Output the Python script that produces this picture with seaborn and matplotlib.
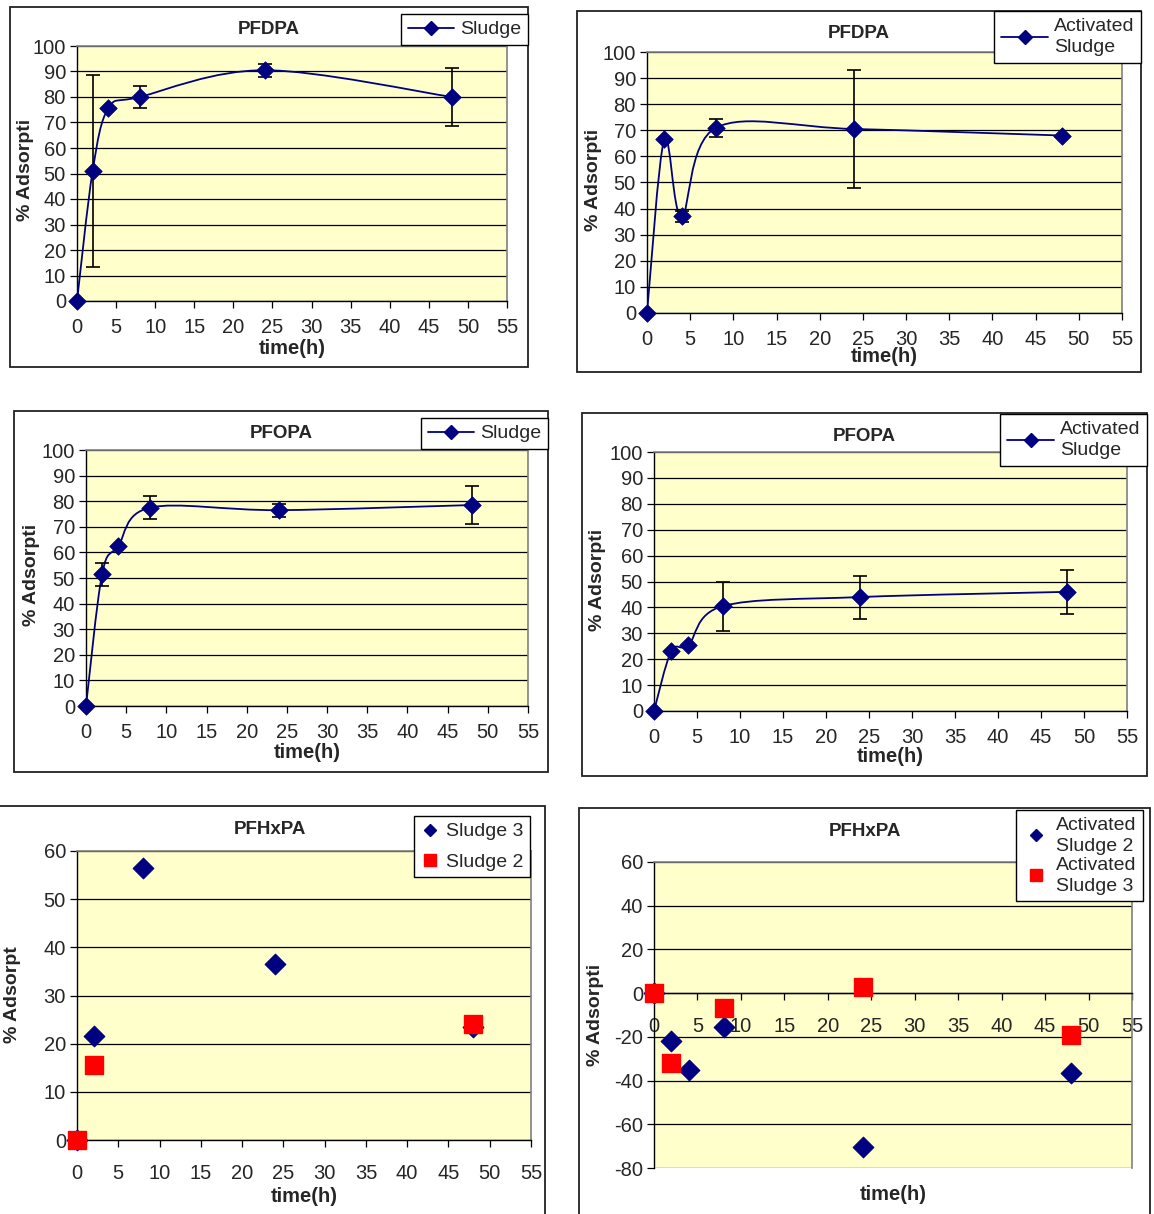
import numpy as np
import pandas as pd
import matplotlib
matplotlib.use('Agg')
import matplotlib.pyplot as plt
import seaborn as sns
from matplotlib.path import Path
from matplotlib.patches import PathPatch, Rectangle
from matplotlib.lines import Line2D

# sampling times (h) and % adsorption
time_h = [0, 2, 4, 8, 24, 48]
pfdpa_sludge = [0, 51, 75.5, 80, 90.5, 80]
pfdpa_sludge_err = [0, 37.5, 0, 4.3, 2.5, 11.5]
pfdpa_act = [0, 66.5, 37, 71, 70.5, 68]
pfdpa_act_err = [0, 0, 2, 3.5, 22.5, 0]
pfopa_sludge = [0, 51.5, 62.5, 77.5, 76.5, 78.5]
pfopa_sludge_err = [0, 4.5, 0, 4.5, 2.5, 7.5]
pfopa_act = [0, 23, 25.5, 40.5, 44, 46]
pfopa_act_err = [0, 0, 0, 9.5, 8.3, 8.5]

pfhxpa_time_s3 = [0, 2, 8, 24, 48]
pfhxpa_sludge3 = [0, 21.5, 56.5, 36.5, 23.5]
pfhxpa_time_s2 = [0, 2, 48]
pfhxpa_sludge2 = [0, 15.5, 24]
pfhxpa_time_as2 = [0, 2, 4, 8, 24, 48]
pfhxpa_act2 = [0, -22, -35, -15.5, -70.5, -36.5]
pfhxpa_time_as3 = [0, 2, 8, 24, 48]
pfhxpa_act3 = [0, -32, -7, 3, -19]

x_ticks = list(range(0, 56, 5))

NAVY = '#000080'
RED = '#FF0000'
W, H = 1154, 1214

sns.set_style('white')
plt.rcParams['font.family'] = ['Liberation Sans', 'DejaVu Sans']
plt.rcParams['axes.unicode_minus'] = False

fig = plt.figure(figsize=(W / 100, H / 100), dpi=100)


def frac_rect(x0, y0, x1, y1):
    return [x0 / W, 1 - y1 / H, (x1 - x0) / W, (y1 - y0) / H]


def smooth_path(xs, ys):
    """Excel-style smoothed line: bezier segments through the points"""
    pts = np.column_stack([xs, ys]).astype(float)
    n = len(pts)
    verts = [pts[0]]
    codes = [Path.MOVETO]
    for i in range(n - 1):
        p0 = pts[max(i - 1, 0)]
        p1 = pts[i]
        p2 = pts[i + 1]
        p3 = pts[min(i + 2, n - 1)]
        verts += [p1 + (p2 - p0) / 6, p2 - (p3 - p1) / 6, p2]
        codes += [Path.CURVE4] * 3
    return Path(verts, codes)


def make_panel(plot_px, border_px, title, title_y, xlabel_y, ylabel_xy, ylim, yticks,
               ylabel='% Adsorpti', xpad=7):
    bx0, by0, bx1, by1 = border_px
    fig.add_artist(Rectangle((bx0 / W, 1 - by1 / H), (bx1 - bx0) / W, (by1 - by0) / H,
                             transform=fig.transFigure, fill=False, edgecolor='#222222', lw=1.3, zorder=0))
    ax = fig.add_axes(frac_rect(*plot_px))
    ax.set_facecolor('#FFFFCC')
    ax.set_xlim(0, 55)
    ax.set_xticks(x_ticks)
    ax.set_ylim(*ylim)
    ax.set_yticks(yticks)
    ax.set_axisbelow(True)
    ax.grid(axis='y', color='black', lw=0.9)
    ax.grid(axis='x', visible=False)
    for side in ['top', 'right']:
        ax.spines[side].set_color('#808080')
        ax.spines[side].set_linewidth(1.2)
    for side in ['left', 'bottom']:
        ax.spines[side].set_color('black')
        ax.spines[side].set_linewidth(1.0)
    ax.tick_params(direction='out', length=5, width=0.9, color='black', labelsize=14.5,
                   bottom=True, left=True)
    ax.tick_params(axis='y', pad=3)
    ax.tick_params(axis='x', pad=xpad)
    fig.text((bx0 + bx1) / 2 / W, 1 - title_y / H, title, ha='center', va='center',
             fontsize=13.5, fontweight='bold')
    fig.text((plot_px[0] + plot_px[2]) / 2 / W, 1 - xlabel_y / H, 'time(h)', ha='center', va='center',
             fontsize=14.5, fontweight='bold')
    fig.text(ylabel_xy[0] / W, 1 - ylabel_xy[1] / H, ylabel, rotation=90, ha='center', va='center',
             fontsize=14, fontweight='bold')
    return ax


def line_series(ax, y, err):
    df = pd.DataFrame({'time': time_h, 'value': y, 'err': err})
    ax.add_patch(PathPatch(smooth_path(df['time'], df['value']), fill=False, edgecolor=NAVY,
                           lw=1.3, transform=ax.transData, zorder=3))
    eb = df[df['err'] > 0]
    ax.errorbar(eb['time'], eb['value'], yerr=eb['err'], fmt='none', ecolor='black',
                elinewidth=1.2, capsize=5, capthick=1.2, zorder=3.5)
    sns.scatterplot(data=df, x='time', y='value', marker='D', s=80, color=NAVY, edgecolor=NAVY,
                    linewidth=0.5, ax=ax, zorder=4, legend=False, clip_on=False)
    ax.set_xlabel('')
    ax.set_ylabel('')


def scatter_series(ax, x, y, marker, color, size):
    sns.scatterplot(x=x, y=y, marker=marker, s=size, color=color, edgecolor=color,
                    ax=ax, zorder=4 if marker == 'D' else 5, legend=False, clip_on=False)
    ax.set_xlabel('')
    ax.set_ylabel('')


def add_legend(handles, labels, right_px, top_px, handlelength=2.4, labelspacing=0.25,
               linespacing=1.35):
    leg = fig.legend(handles, labels, loc='upper right', bbox_to_anchor=(right_px / W, 1 - top_px / H),
                     frameon=True, fancybox=False, edgecolor='black', framealpha=1, borderaxespad=0,
                     fontsize=14, handlelength=handlelength, borderpad=0.35, labelspacing=labelspacing,
                     handletextpad=0.3)
    leg.get_frame().set_linewidth(1.0)
    for t in leg.get_texts():
        t.set_linespacing(linespacing)
    return leg


line_handle = Line2D([], [], color=NAVY, marker='D', markersize=7, lw=1.3)
diamond_handle = Line2D([], [], color=NAVY, marker='D', markersize=6.5, lw=0)
square_handle = Line2D([], [], color=RED, marker='s', markersize=8, lw=0)

y100 = list(range(0, 101, 10))

# PFDPA, sludge
ax1 = make_panel((77, 46, 507, 301), (10, 7, 528, 367), 'PFDPA', 30, 348, (25, 170), (0, 100), y100)
line_series(ax1, pfdpa_sludge, pfdpa_sludge_err)
add_legend([line_handle], ['Sludge'], 528, 14)

# PFDPA, activated sludge
ax2 = make_panel((647, 52, 1122, 313), (577, 11, 1141, 372), 'PFDPA', 33, 357, (594, 180), (0, 100), y100)
line_series(ax2, pfdpa_act, pfdpa_act_err)
add_legend([line_handle], ['Activated\nSludge'], 1141, 11)

# PFOPA, sludge
ax3 = make_panel((86, 450, 528, 706), (14, 411, 548, 772), 'PFOPA', 434, 752, (31, 575), (0, 100), y100)
line_series(ax3, pfopa_sludge, pfopa_sludge_err)
add_legend([line_handle], ['Sludge'], 548, 418)

# PFOPA, activated sludge
ax4 = make_panel((654, 452, 1127, 711), (582, 413, 1147, 776), 'PFOPA', 436, 757, (598, 580), (0, 100), y100)
line_series(ax4, pfopa_act, pfopa_act_err)
add_legend([line_handle], ['Activated\nSludge'], 1147, 414)

# PFHxPA, sludge 3 / sludge 2
ax5 = make_panel((77, 851, 531, 1140), (-5, 806, 545, 1225), 'PFHxPA', 830, 1196, (13, 995), (0, 60),
                 list(range(0, 61, 10)), ylabel='% Adsorpt', xpad=12)
scatter_series(ax5, pfhxpa_time_s3, pfhxpa_sludge3, 'D', NAVY, 110)
scatter_series(ax5, pfhxpa_time_s2, pfhxpa_sludge2, 's', RED, 150)
add_legend([diamond_handle, square_handle], ['Sludge 3', 'Sludge 2'], 530, 816,
           handlelength=1.0, labelspacing=0.65)

# PFHxPA, activated sludge 2 / 3
ax6 = make_panel((654, 862, 1132, 1168), (579, 808, 1150, 1225), 'PFHxPA', 832, 1194, (596, 1015), (-80, 60),
                 list(range(-80, 61, 20)), xpad=12)
ax6.spines['bottom'].set_position(('data', 0))
scatter_series(ax6, pfhxpa_time_as2, pfhxpa_act2, 'D', NAVY, 110)
scatter_series(ax6, pfhxpa_time_as3, pfhxpa_act3, 's', RED, 150)
add_legend([diamond_handle, square_handle], ['Activated\nSludge 2', 'Activated\nSludge 3'], 1143, 810,
           handlelength=1.4, labelspacing=0.1, linespacing=1.3)

fig.savefig('out.png', dpi=100)
